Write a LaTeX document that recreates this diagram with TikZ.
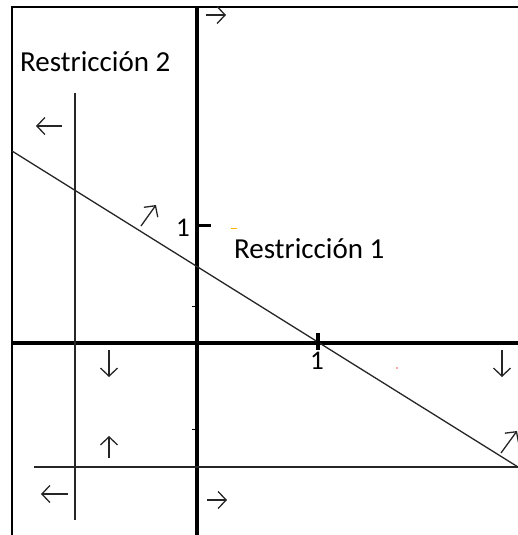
\documentclass[tikz,border=0pt]{standalone}
\usepackage{fontspec}
\setmainfont{Carlito}
\usetikzlibrary{arrows.meta}
\tikzset{
  frameline/.style={line width=2pt, black},
  axisline/.style={line width=4pt, black},
  thinline/.style={line width=1.4pt, black!85},
  glyph/.style={line width=1.3pt, black!85, -{Straight Barb[length=8pt,width=17pt]}},
  tickmark/.style={line width=3pt, black},
  label/.style={font=\fontsize{29}{33}\selectfont, text=black, inner sep=0pt, anchor=base west},
  numlabel/.style={font=\fontsize{27}{30}\selectfont, text=black, inner sep=0pt, anchor=base}
}
\begin{document}
\begin{tikzpicture}[x=1pt,y=-1pt]
\useasboundingbox (0,0) rectangle (518,535);
\fill[white] (0,0) rectangle (518,535);
% frame
\coordinate (fbl) at (12,535);
\coordinate (ftl) at (12,7);
\coordinate (ftr) at (518,7);
\draw[frameline] (fbl) -- (ftl) -- (ftr);
% axes
\coordinate (yt) at (197,7);
\coordinate (yb) at (197,535);
\coordinate (xl) at (12,343);
\coordinate (xr) at (518,343);
\draw[axisline] (yt) -- (yb);
\draw[axisline] (xl) -- (xr);
% restriction lines
\coordinate (r2t) at (75,93);
\coordinate (r2b) at (75,520);
\draw[thinline] (r2t) -- (r2b);
\coordinate (hl) at (34,467);
\coordinate (hr) at (518,467);
\draw[thinline] (hl) -- (hr);
\coordinate (dl) at (12,151);
\coordinate (dr) at (518,467);
\draw[line width=1.3pt, black!85] (dl) -- (dr);
% ticks
\coordinate (yt1a) at (196,225);
\coordinate (yt1b) at (211,225);
\draw[tickmark] (yt1a) -- (yt1b);
\coordinate (xt1a) at (318,333);
\coordinate (xt1b) at (318,350);
\draw[line width=3.5pt] (xt1a) -- (xt1b);
\coordinate (m1a) at (192,306);
\coordinate (m1b) at (195,306);
\draw[line width=1pt] (m1a) -- (m1b);
\coordinate (m2a) at (192,429);
\coordinate (m2b) at (195,429);
\draw[line width=1pt] (m2a) -- (m2b);
% stray colour marks
\coordinate (ya) at (231,228);
\coordinate (yb2) at (237,228);
\draw[line width=1pt, orange!60!yellow] (ya) -- (yb2);
\fill[red!70] (397,368) circle (0.9pt);
% labels
\node[label] (res2) at (20,71) {Restricción 2};
\node[label] (res1) at (234,258) {Restricción 1};
\node[numlabel] (one1) at (183,236) {1};
\node[numlabel] (onex) at (317,369) {1};
% direction arrows
\coordinate (a1s) at (206,15);  \coordinate (a1e) at (226,15);
\draw[glyph] (a1s) -- (a1e);
\coordinate (a2s) at (62,126);  \coordinate (a2e) at (36,126);
\draw[glyph] (a2s) -- (a2e);
\coordinate (a3s) at (141,226); \coordinate (a3e) at (156,205);
\draw[glyph] (a3s) -- (a3e);
\coordinate (a4s) at (109,350); \coordinate (a4e) at (109,377);
\draw[glyph] (a4s) -- (a4e);
\coordinate (a5s) at (109,458); \coordinate (a5e) at (109,436);
\draw[glyph] (a5s) -- (a5e);
\coordinate (a6s) at (68,494);  \coordinate (a6e) at (41,494);
\draw[glyph] (a6s) -- (a6e);
\coordinate (a7s) at (207,500); \coordinate (a7e) at (227,500);
\draw[glyph] (a7s) -- (a7e);
\coordinate (a8s) at (502,350); \coordinate (a8e) at (502,377);
\draw[glyph] (a8s) -- (a8e);
\coordinate (a9s) at (501,453); \coordinate (a9e) at (517,431);
\draw[glyph] (a9s) -- (a9e);
\end{tikzpicture}
\end{document}
